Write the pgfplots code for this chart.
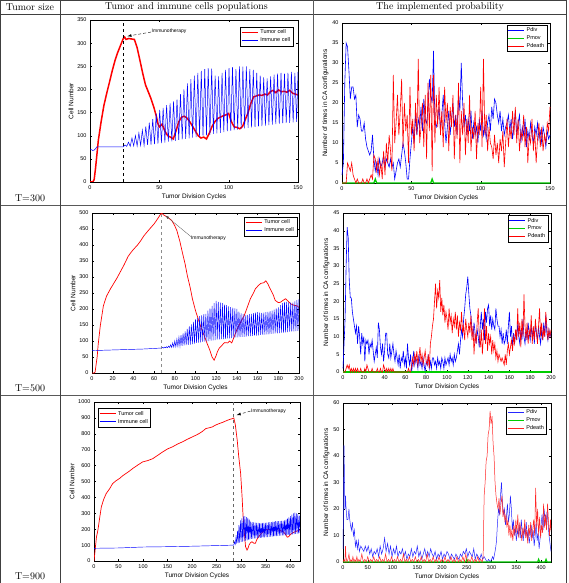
\documentclass[border=0pt]{standalone}
\usepackage{fontspec}
\newfontfamily\plotfont{Liberation Sans}
\usepackage{pgfplots}
\pgfplotsset{compat=1.18}
\definecolor{mred}{RGB}{255,0,0}
\definecolor{mblue}{RGB}{0,0,255}
\definecolor{mgreen}{RGB}{0,205,0}
\pgfplotsset{
 mstyle/.style={scale only axis, anchor=north west,
  axis line style={black, line width=0.4pt},
  tick style={black, line width=0.3pt}, major tick length=2pt, tick align=inside,
  /pgf/number format/assume math mode=true,
  /pgf/number format/1000 sep={},
  scaled ticks=false,
  tick label style={font=\fontsize{5.5}{6}\selectfont\plotfont},
  label style={font=\fontsize{6.5}{7}\selectfont\plotfont},
  xlabel style={yshift=3pt},
  ylabel style={yshift=-3pt},
  legend style={font=\fontsize{5.5}{6.5}\selectfont\plotfont, draw=black, line width=0.4pt,
    inner sep=0.8pt, row sep=-1.5pt, cells={anchor=west}},
  legend image code/.code={\draw[##1, line width=1pt] (0pt,0pt) -- (16pt,0pt);},
 }
}
\begin{document}
\begin{tikzpicture}
\path[use as bounding box] (0,0) rectangle (568pt,-583pt);
% table frame
\draw[line width=0.6pt, black!75] (0.5pt,-0.5pt) -- (566pt,-0.5pt);
\draw[line width=0.6pt, black!75] (0.5pt,-14pt) -- (566pt,-14pt);
\draw[line width=0.9pt, black!65] (0.5pt,-205pt) -- (566pt,-205pt);
\draw[line width=0.9pt, black!65] (0.5pt,-395pt) -- (566pt,-395pt);
\draw[line width=0.6pt, black!75] (0.5pt,0) -- (0.5pt,-583pt);
\draw[line width=0.6pt, black!75] (60pt,0) -- (60pt,-583pt);
\draw[line width=0.9pt, black!65] (313pt,0) -- (313pt,-583pt);
\draw[line width=0.6pt, black!75] (566pt,0) -- (566pt,-583pt);
\node[font=\fontsize{10}{12}\selectfont] at (30pt,-7.5pt) {Tumor size};
\node[font=\fontsize{10}{12}\selectfont] at (186.5pt,-7.5pt) {Tumor and immune cells populations};
\node[font=\fontsize{10}{12}\selectfont] at (440pt,-7.5pt) {The implemented probability};
\node[font=\fontsize{10}{12}\selectfont] at (30pt,-198pt) {T=300};
\node[font=\fontsize{10}{12}\selectfont] at (30pt,-388pt) {T=500};
\node[font=\fontsize{10}{12}\selectfont] at (30pt,-576pt) {T=900};

% ---------- Plot 1 ----------
\begin{axis}[mstyle, at={(90pt,-20pt)}, width=208pt, height=162pt,
  xmin=0, xmax=150, ymin=0, ymax=350, xtick={0,50,100,150}, ytick={0,50,...,350},
  xlabel={Tumor Division Cycles}, ylabel={Cell Number},
  legend style={at={(0.976,0.957)}, anchor=north east}]
\addplot[mred, line width=1.5pt] coordinates {(0,0)(2,0)(3,5)(4,30)(5,60)(6,90)(8,130)(10,165)(12,191)(14,215)(16,240)(18,262)(20,280)(22,295)(24,310)(25,313)(26,308)(28,310)(30,309)(32,308)(34,290)(36,263)(38,235)(40,210)(42,195)(44,180)(46,162)(48,140)(49,126)(50,119)(52,125)(54,110)(56,100)(58,97)(60,93)(62,110)(64,130)(66,140)(68,142)(70,138)(72,130)(74,120)(76,110)(78,100)(80,95)(82,97)(84,93)(86,105)(88,120)(90,130)(92,137)(94,140)(96,143)(98,145)(100,148)(102,130)(104,119)(106,118)(108,115)(110,120)(112,135)(114,150)(116,170)(118,184)(120,186)(122,188)(124,187)(126,190)(128,188)(130,195)(132,198)(134,193)(136,199)(138,195)(140,196)(142,194)(144,198)(146,192)(148,190)(150,188)};
\addlegendentry{Tumor cell}
\addplot[mblue, line width=0.5pt] coordinates {(0,70)(1,70)(2,68)(3,69)(4,72)(5,76)(24,76)(25.25,80)(26.5,77)(27.75,86)(29,77)(30.25,95)(31.5,78)(32.75,100)(34,78)(35.25,106)(36.5,79)(37.75,112)(39,79)(40.25,120)(41.5,80)(42.75,128)(44,81)(45.25,136)(46.5,82)(47.75,148)(49,83)(50.25,156)(51.5,84)(52.75,160)(54,85)(55.25,166)(56.5,87)(57.75,170)(59,88)(60.25,174)(61.5,89)(62.75,178)(64,91)(65.25,190)(66.5,92)(67.75,200)(69,93)(70.25,213)(71.5,94)(72.75,222)(74,96)(75.25,230)(76.5,97)(77.75,236)(79,98)(80.25,240)(81.5,100)(82.75,244)(84,101)(85.25,246)(86.5,102)(87.75,245)(89,104)(90.25,230)(91.5,105)(92.75,228)(94,106)(95.25,236)(96.5,108)(97.75,242)(99,110)(100.25,246)(101.5,111)(102.75,248)(104,112)(105.25,244)(106.5,113)(107.75,250)(109,115)(110.25,249)(111.5,116)(112.75,250)(114,117)(115.25,244)(116.5,118)(117.75,242)(119,119)(120.25,236)(121.5,120)(122.75,230)(124,121)(125.25,226)(126.5,122)(127.75,224)(129,123)(130.25,228)(131.5,124)(132.75,232)(134,125)(135.25,234)(136.5,126)(137.75,236)(139,127)(140.25,234)(141.5,128)(142.75,236)(144,128)(145.25,238)(146.5,129)(147.75,236)(149,130)(150,238)};
\addlegendentry{Immune cell}
\addplot[black, dashed, line width=0.8pt, forget plot] coordinates {(24,0)(24,350)};
\draw[black, densely dashed, line width=0.4pt, -latex] (axis cs:44,324) -- (axis cs:27,315);
\node[anchor=west, inner sep=0.5pt, font=\fontsize{5}{6}\selectfont\plotfont] at (axis cs:44,325) {Immunotherapy};
\end{axis}

% ---------- Plot 2 ----------
\begin{axis}[mstyle, at={(342pt,-23pt)}, width=208pt, height=160pt, clip=false,
  xmin=0, xmax=150, ymin=0, ymax=40, xtick={0,50,100,150}, ytick={0,5,...,40},
  xlabel={Tumor Division Cycles}, ylabel={Number of times in CA configurations},
  legend style={at={(0.986,0.99)}, anchor=north east}]
\addplot[mblue, line width=0.6pt] coordinates {(0,2)(1,5)(2,25)(3,35)(4,34)(5,28)(6,21)(7,24)(8,24)(9,21)(10,22)(11,14)(12,17)(13,16)(14,13)(15,13)(16,15)(17,11)(18,9)(19,8)(20,7)(21,8)(22,12)(23,6)(24,3)(25,5)(26,2)(27,6)(28,4)(29,5)(30,7)(31,4)(32,6)(33,5)(34,4)(35,6)(36,4)(37,5)(38,1)(39,3)(40,5)(41,6)(42,4)(43,7)(44,10)(45,8)(46,5)(47,1)(48,1)(49,6)(50,10)(51,14)(52,10)(53,17)(54,12)(55,16)(56,14)(57,19)(58,13)(59,21)(60,16)(61,15)(62,18)(63,26)(64,22)(65,20)(66,33)(67,15)(68,14)(69,16)(70,19)(71,13)(72,17)(73,22)(74,15)(75,10)(76,14)(77,18)(78,12)(79,16)(80,20)(81,14)(82,17)(83,12)(84,22)(85,18)(86,30)(87,20)(88,14)(89,17)(90,12)(91,16)(92,13)(93,18)(94,11)(95,15)(96,12)(97,14)(98,10)(99,16)(100,13)(101,18)(102,12)(103,14)(104,11)(105,15)(106,17)(107,13)(108,19)(109,16)(110,21)(111,20)(112,17)(113,15)(114,18)(115,13)(116,16)(117,12)(118,14)(119,15)(120,17)(121,13)(122,16)(123,11)(124,14)(125,18)(126,12)(127,15)(128,17)(129,10)(130,14)(131,12)(132,16)(133,9)(134,13)(135,11)(136,15)(137,12)(138,10)(139,14)(140,12)(141,15)(142,11)(143,13)(144,10)(145,14)(146,12)(147,9)(148,13)(149,11)(150,12)};
\addlegendentry{Pdiv}
\addplot[mgreen, line width=1.3pt] coordinates {(0,0)(23,0)(24,1)(25,0)(64,0)(65,1)(66,0)(150,0)};
\addlegendentry{Pmov}
\addplot[mred, line width=0.6pt] coordinates {(0,0)(1,0)(2,0)(3,0)(4,5)(5,4)(6,3)(7,5)(8,2)(9,1)(10,0)(11,1)(12,0)(13,0)(14,0)(15,1)(16,0)(17,0)(18,1)(19,0)(20,1)(21,2)(22,1)(23,7)(24,6)(25,3)(26,6)(27,2)(28,5)(29,1)(30,8)(31,2)(32,10)(33,5)(34,12)(35,8)(36,3)(37,27)(38,10)(39,15)(40,22)(41,12)(42,18)(43,26)(44,9)(45,20)(46,13)(47,17)(48,5)(49,24)(50,12)(51,16)(52,8)(53,20)(54,12)(55,31)(56,10)(57,14)(58,20)(59,9)(60,22)(61,6)(62,25)(63,13)(64,27)(65,3)(66,27)(67,10)(68,22)(69,14)(70,24)(71,12)(72,18)(73,9)(74,24)(75,15)(76,20)(77,8)(78,19)(79,14)(80,22)(81,6)(82,17)(83,11)(84,25)(85,5)(86,18)(87,12)(88,20)(89,7)(90,16)(91,10)(92,22)(93,8)(94,14)(95,11)(96,18)(97,6)(98,15)(99,12)(100,24)(101,9)(102,31)(103,12)(104,17)(105,8)(106,14)(107,10)(108,9)(109,6)(110,12)(111,7)(112,10)(113,5)(114,11)(115,8)(116,13)(117,4)(118,10)(119,16)(120,9)(121,14)(122,11)(123,18)(124,12)(125,19)(126,10)(127,16)(128,8)(129,13)(130,11)(131,17)(132,9)(133,14)(134,5)(135,12)(136,10)(137,16)(138,8)(139,13)(140,5)(141,11)(142,15)(143,9)(144,14)(145,8)(146,12)(147,10)(148,15)(149,13)(150,19)};
\addlegendentry{Pdeath}
\end{axis}

% ---------- Plot 3 ----------
\begin{axis}[mstyle, at={(92pt,-213pt)}, width=207pt, height=160pt,
  xmin=0, xmax=200, ymin=0, ymax=500, xtick={0,20,...,200}, ytick={0,50,...,500},
  xlabel={Tumor Division Cycles}, ylabel={Cell Number},
  legend style={at={(0.99,0.975)}, anchor=north east}]
\addplot[mred, line width=0.7pt] coordinates {(0,0)(2,0)(3,3)(5,51)(6,90)(8,147)(11,210)(14,240)(18,264)(21,280)(24,296)(28,320)(31,338)(35,365)(38,378)(40,386)(44,400)(47,413)(50,428)(53,440)(57,455)(60,466)(63,480)(65,490)(67,500)(70,492)(73,487)(77,477)(80,460)(82,445)(85,410)(87,381)(90,340)(92,306)(95,265)(97,232)(100,195)(102,175)(104,155)(106,136)(109,112)(111,94)(114,70)(116,50)(118,40)(120,55)(121,65)(123,78)(126,88)(128,95)(131,94)(133,100)(135,94)(137,110)(140,136)(143,155)(147,179)(150,205)(153,232)(156,250)(158,264)(161,274)(163,280)(166,282)(168,288)(170,278)(172,264)(175,245)(177,227)(180,220)(182,221)(185,228)(187,232)(189,226)(192,216)(195,212)(198,210)(200,205)};
\addlegendentry{Tumor cell}
\addplot[mblue, line width=0.45pt] coordinates {(0,70)(20,72)(50,75)(67,78)(68,80)(69,78)(70,81)(71,79)(72,82)(73,79)(74,84)(75,80)(76,88)(77,80)(78,94)(79,81)(80,100)(81,82)(82,106)(83,83)(84,112)(85,84)(86,118)(87,85)(88,124)(89,86)(90,130)(91,87)(92,138)(93,88)(94,146)(95,89)(96,152)(97,90)(98,160)(99,92)(100,168)(101,94)(102,172)(103,95)(104,178)(105,96)(106,180)(107,97)(108,184)(109,98)(110,185)(111,99)(112,195)(113,100)(114,202)(115,101)(116,210)(117,102)(118,218)(119,103)(120,225)(121,104)(122,222)(123,105)(124,220)(125,106)(126,218)(127,106)(128,214)(129,107)(130,212)(131,108)(132,208)(133,108)(134,206)(135,109)(136,204)(137,110)(138,202)(139,111)(140,200)(141,111)(142,192)(143,112)(144,186)(145,113)(146,184)(147,113)(148,182)(149,114)(150,182)(151,115)(152,184)(153,115)(154,185)(155,116)(156,187)(157,117)(158,189)(159,117)(160,190)(161,118)(162,189)(163,119)(164,188)(165,119)(166,189)(167,120)(168,190)(169,121)(170,191)(171,121)(172,193)(173,122)(174,195)(175,123)(176,198)(177,124)(178,202)(179,124)(180,205)(181,125)(182,212)(183,126)(184,218)(185,126)(186,222)(187,127)(188,222)(189,128)(190,221)(191,129)(192,220)(193,129)(194,220)(195,130)(196,224)(197,131)(198,228)(199,132)(200,232)};
\addlegendentry{Immune cell}
\addplot[black!45, dashed, line width=0.6pt, forget plot] coordinates {(67,0)(67,500)};
\draw[black!70, line width=0.3pt, -latex] (axis cs:96,425) -- (axis cs:71,492);
\node[anchor=north west, inner sep=0.5pt, font=\fontsize{5}{6}\selectfont\plotfont] at (axis cs:95,430) {Immunotherapy};
\end{axis}

% ---------- Plot 4 ----------
\begin{axis}[mstyle, at={(343pt,-213pt)}, width=208pt, height=159pt, clip=false,
  xmin=0, xmax=200, ymin=0, ymax=45, xtick={0,20,...,200}, ytick={0,5,...,45},
  xlabel={Tumor Division Cycles}, ylabel={Number of times in CA configurations},
  legend style={at={(0.986,0.987)}, anchor=north east}]
\addplot[mblue, line width=0.6pt] coordinates {(0,1)(1,8)(2,15)(3,30)(4,41)(5,38)(6,26)(7,21)(8,21)(9,17)(10,15)(11,13)(12,11)(13,13)(14,8)(15,13)(16,10)(17,5)(18,11)(19,8)(20,10)(21,3)(22,9)(23,8)(24,9)(25,5)(26,8)(27,7)(28,9)(29,6)(30,3)(31,5)(32,7)(33,4)(34,14)(35,12)(36,7)(37,5)(38,8)(39,3)(40,6)(41,11)(42,11)(43,5)(44,4)(45,8)(46,4)(47,6)(48,8)(49,5)(50,3)(51,6)(52,4)(53,2)(54,5)(55,1)(56,4)(57,3)(58,6)(59,2)(60,4)(61,1)(62,8)(63,4)(64,2)(65,5)(66,0)(67,3)(68,6)(69,2)(70,4)(71,3)(72,1)(73,5)(74,2)(75,3)(76,1)(77,4)(78,2)(79,0)(80,3)(81,2)(82,5)(83,1)(84,3)(85,1)(86,4)(87,4)(88,2)(89,3)(90,1)(91,4)(92,2)(93,3)(94,1)(95,4)(96,3)(97,1)(98,4)(99,2)(100,3)(101,4)(102,2)(103,5)(104,3)(105,4)(106,2)(107,5)(108,3)(109,4)(110,6)(111,8)(112,5)(113,9)(114,12)(115,10)(116,15)(117,18)(118,22)(119,24)(120,27)(121,22)(122,18)(123,16)(124,12)(125,10)(126,14)(127,11)(128,8)(129,12)(130,10)(131,7)(132,13)(133,17)(134,12)(135,15)(136,9)(137,17)(138,14)(139,18)(140,19)(141,13)(142,16)(143,12)(144,15)(145,13)(146,12)(147,18)(148,15)(149,13)(150,13)(151,10)(152,12)(153,8)(154,11)(155,8)(156,9)(157,12)(158,8)(159,13)(160,17)(161,10)(162,13)(163,7)(164,11)(165,8)(166,12)(167,9)(168,14)(169,10)(170,8)(171,12)(172,9)(173,15)(174,10)(175,8)(176,12)(177,9)(178,14)(179,11)(180,9)(181,13)(182,10)(183,12)(184,8)(185,14)(186,11)(187,9)(188,13)(189,10)(190,8)(191,12)(192,9)(193,14)(194,10)(195,16)(196,11)(197,9)(198,12)(199,10)(200,11)};
\addlegendentry{Pdiv}
\addplot[mgreen, line width=1.3pt] coordinates {(0,0)(200,0)};
\addlegendentry{Pmov}
\addplot[mred, line width=0.6pt] coordinates {(0,0)(1,0)(2,0)(3,1)(4,2)(5,1)(6,2)(7,0)(8,1)(9,0)(10,1)(11,0)(12,1)(13,0)(14,1)(15,0)(16,0)(17,1)(18,0)(19,0)(20,0)(21,1)(22,0)(23,2)(24,1)(25,0)(26,0)(27,0)(28,1)(29,0)(30,0)(31,0)(32,0)(33,1)(34,0)(35,0)(36,1)(37,0)(38,0)(39,2)(40,1)(41,0)(42,1)(43,0)(44,1)(45,0)(46,1)(47,0)(48,1)(49,0)(50,0)(62,0)(63,1)(64,0)(65,0)(66,2)(67,4)(68,2)(69,5)(70,3)(71,6)(72,2)(73,4)(74,7)(75,3)(76,5)(77,2)(78,4)(79,6)(80,3)(81,2)(82,5)(83,1)(84,8)(85,10)(86,13)(87,15)(88,20)(89,25)(90,18)(91,23)(92,21)(93,26)(94,17)(95,21)(96,16)(97,19)(98,14)(99,17)(100,15)(101,12)(102,18)(103,14)(104,16)(105,11)(106,15)(107,13)(108,17)(109,12)(110,16)(111,10)(112,14)(113,12)(114,17)(115,11)(116,13)(117,9)(118,15)(119,12)(120,10)(121,14)(122,11)(123,16)(124,9)(125,13)(126,5)(127,11)(128,8)(129,14)(130,18)(131,10)(132,7)(133,12)(134,5)(135,10)(136,18)(137,8)(138,13)(139,6)(140,11)(141,8)(142,10)(143,5)(144,9)(145,6)(146,8)(147,4)(148,6)(149,3)(150,5)(151,4)(152,3)(153,4)(154,3)(155,2)(156,5)(157,2)(158,6)(159,8)(160,5)(161,7)(162,9)(163,6)(164,10)(165,8)(166,12)(167,9)(168,18)(169,10)(170,14)(171,7)(172,15)(173,10)(174,22)(175,13)(176,9)(177,14)(178,8)(179,12)(180,10)(181,16)(182,8)(183,13)(184,9)(185,15)(186,11)(187,8)(188,13)(189,18)(190,10)(191,14)(192,9)(193,12)(194,10)(195,17)(196,13)(197,9)(198,12)(199,10)(200,12)};
\addlegendentry{Pdeath}
\end{axis}

% ---------- Plot 5 ----------
\begin{axis}[mstyle, at={(94pt,-402pt)}, width=206pt, height=159pt,
  xmin=0, xmax=420, ymin=0, ymax=1000, xtick={0,50,...,400}, ytick={0,100,...,1000},
  xlabel={Tumor Division Cycles}, ylabel={Cell Number},
  legend style={at={(0.02,0.962)}, anchor=north west}]
\addplot[mred, line width=0.7pt] coordinates {(0,0)(2,60)(3,90)(5,150)(8,195)(12,280)(15,341)(20,390)(25,425)(32,455)(38,487)(45,505)(52,519)(58,535)(65,550)(72,565)(79,582)(90,605)(99,623)(110,632)(120,644)(130,665)(140,686)(150,705)(160,718)(170,735)(180,749)(190,765)(200,780)(207,790)(214,801)(221,815)(228,833)(235,838)(241,843)(248,855)(255,864)(263,873)(272,885)(278,892)(282,895)(285,900)(288,860)(292,760)(295,660)(299,550)(302,400)(304,278)(307,160)(309,90)(312,69)(314,80)(316,100)(319,115)(322,121)(326,112)(329,111)(332,135)(336,153)(340,170)(345,185)(349,195)(355,198)(363,195)(370,200)(376,195)(381,190)(386,184)(390,170)(394,150)(397,153)(400,165)(403,174)(407,180)(410,184)(415,190)(420,195)};
\addlegendentry{Tumor cell}
\addplot[mblue, line width=0.45pt] coordinates {(0,75)(2,80)(50,82)(100,88)(150,90)(200,93)(250,97)(285,100)(286.5,120)(288,105)(289.5,150)(291,110)(292.5,190)(294,112)(295.5,225)(297,115)(298.5,255)(300,120)(301.5,268)(303,122)(304.5,280)(306,125)(307.5,282)(309,128)(310.5,276)(312,130)(313.5,272)(315,133)(316.5,262)(318,136)(319.5,248)(321,140)(322.5,245)(324,141)(325.5,243)(327,142)(328.5,241)(330,143)(331.5,240)(333,144)(334.5,239)(336,145)(337.5,238)(339,146)(340.5,238)(342,147)(343.5,239)(345,148)(346.5,240)(348,149)(349.5,240)(351,150)(352.5,242)(354,151)(355.5,243)(357,152)(358.5,244)(360,153)(361.5,245)(363,154)(364.5,247)(366,155)(367.5,248)(369,156)(370.5,250)(372,157)(373.5,250)(375,158)(376.5,250)(378,159)(379.5,250)(381,160)(382.5,252)(384,161)(385.5,253)(387,162)(388.5,255)(390,162)(391.5,260)(393,163)(394.5,268)(396,164)(397.5,275)(399,165)(400.5,282)(402,166)(403.5,292)(405,168)(406.5,300)(408,169)(409.5,305)(411,171)(412.5,300)(414,172)(415.5,295)(417,174)(418.5,285)(420,175)};
\addlegendentry{Immune cell}
\addplot[black!60, dashed, line width=0.9pt, forget plot] coordinates {(285,0)(285,1000)};
\draw[black, densely dashed, line width=0.4pt, -latex] (axis cs:319,943) -- (axis cs:291,918);
\node[anchor=west, inner sep=0.5pt, font=\fontsize{5}{6}\selectfont\plotfont] at (axis cs:319,945) {Immunotherapy};
\end{axis}

% ---------- Plot 6 ----------
\begin{axis}[mstyle, at={(343pt,-403pt)}, width=208pt, height=159pt, clip=false,
  xmin=0, xmax=420, ymin=0, ymax=60, xtick={0,50,...,400}, ytick={0,10,...,60},
  xlabel={Tumor Division Cycles}, ylabel={Number of times in CA configurations},
  legend style={at={(0.98,0.975)}, anchor=north east}]
\addplot[mblue!85, line width=0.5pt] coordinates {(0,5)(1,20)(2,44)(3,30)(4,20)(5,25)(6,21)(7,18)(8,16)(10,16)(12,20)(13,17)(15,14)(17,12)(19,15)(21,10)(23,12)(25,6)(27,8)(29,5)(31,8)(33,4)(36,6)(39,5)(42,4)(45,6)(48,4)(51,6)(54,3)(57,5)(60,2)(63,4)(66,3)(69,5)(72,2)(75,6)(78,3)(81,5)(84,9)(87,4)(90,7)(93,3)(96,6)(99,2)(102,5)(105,3)(108,6)(111,2)(114,4)(117,3)(120,5)(123,2)(126,4)(129,1)(132,3)(135,2)(138,5)(141,2)(144,4)(147,3)(150,6)(153,2)(156,4)(159,1)(162,3)(165,5)(168,2)(171,4)(174,2)(177,5)(180,3)(183,2)(186,4)(189,1)(192,3)(195,2)(198,4)(201,1)(204,3)(207,2)(210,4)(213,3)(216,1)(219,3)(222,2)(225,1)(228,3)(231,2)(234,1)(237,3)(240,2)(243,4)(246,3)(249,5)(252,2)(255,4)(258,3)(261,2)(264,5)(267,1)(270,3)(273,2)(276,1)(279,3)(282,1)(285,2)(288,1)(291,0)(294,1)(297,0)(300,1)(302,2)(304,1)(306,3)(308,5)(310,8)(312,15)(314,20)(316,18)(318,25)(320,30)(322,22)(324,18)(326,20)(328,14)(330,17)(332,22)(334,15)(336,18)(338,25)(340,20)(342,12)(344,16)(346,10)(348,13)(350,8)(352,12)(354,10)(356,14)(358,9)(360,16)(362,11)(364,8)(366,13)(368,10)(370,15)(372,9)(374,12)(376,7)(378,10)(380,14)(382,9)(384,12)(386,6)(388,10)(390,15)(392,8)(394,11)(396,5)(398,9)(400,14)(402,18)(404,12)(406,20)(408,16)(410,14)(412,19)(414,15)(416,10)(418,7)(420,4)};
\addlegendentry{Pdiv}
\addplot[mgreen, line width=1.2pt] coordinates {(0,0)(248,0)(250,1)(252,0)(393,0)(395,1)(397,0)(408,0)(410,1)(412,0)(420,0)};
\addlegendentry{Pmov}
\addplot[mred!85, line width=0.5pt] coordinates {(0,0)(2,1)(4,0)(5,6)(6,2)(8,0)(10,1)(12,3)(14,0)(16,1)(18,0)(20,2)(22,0)(24,1)(26,0)(28,2)(30,0)(32,1)(35,0)(38,3)(41,0)(44,1)(47,0)(50,2)(53,0)(56,1)(59,0)(62,2)(65,0)(68,1)(71,0)(74,2)(77,0)(80,1)(83,0)(86,3)(89,0)(92,1)(95,0)(98,2)(101,0)(104,1)(107,0)(110,2)(113,0)(116,1)(119,0)(122,3)(125,0)(128,1)(131,0)(134,2)(137,0)(140,1)(143,0)(146,2)(149,0)(152,1)(155,0)(158,2)(161,0)(164,1)(167,0)(170,3)(173,0)(176,1)(179,0)(182,2)(185,0)(188,1)(191,0)(194,2)(197,0)(200,1)(203,0)(206,2)(209,0)(212,1)(215,0)(218,2)(221,0)(224,1)(227,0)(230,2)(233,0)(236,1)(239,0)(242,2)(245,0)(248,3)(251,0)(254,1)(257,0)(260,2)(263,0)(266,1)(269,0)(272,2)(275,0)(278,1)(281,0)(283,2)(285,25)(287,30)(289,38)(291,40)(293,48)(295,50)(297,57)(299,52)(301,55)(303,45)(305,40)(307,30)(309,25)(311,22)(313,20)(315,24)(317,18)(319,22)(321,25)(323,17)(325,20)(327,15)(329,18)(331,13)(333,16)(335,10)(337,14)(339,9)(341,12)(343,8)(345,14)(347,10)(349,16)(351,11)(353,18)(355,9)(357,15)(359,12)(361,8)(363,13)(365,10)(367,16)(369,9)(371,12)(373,7)(375,14)(377,10)(379,15)(381,8)(383,12)(385,16)(387,10)(389,28)(391,13)(393,20)(395,10)(397,17)(399,9)(401,14)(403,11)(405,22)(407,13)(409,18)(411,12)(413,22)(415,15)(417,10)(419,16)(420,12)};
\addlegendentry{Pdeath}
\end{axis}
\end{tikzpicture}
\end{document}
